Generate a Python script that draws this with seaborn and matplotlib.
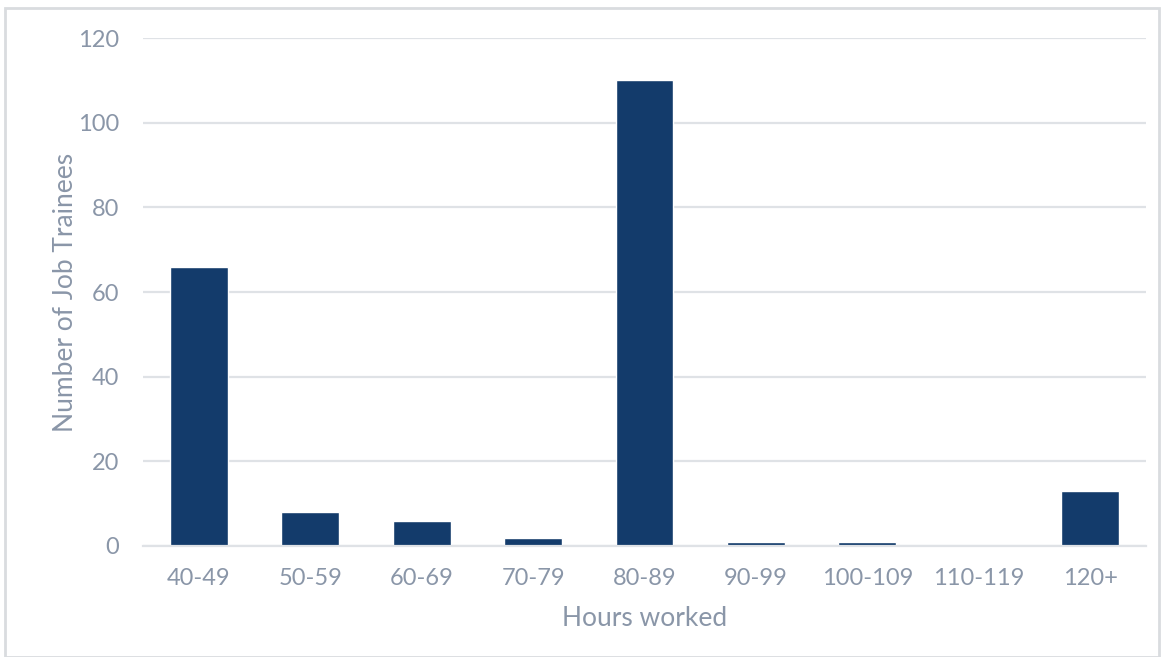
import matplotlib
matplotlib.use("Agg")
import matplotlib.pyplot as plt
import seaborn as sns
import pandas as pd
from matplotlib.patches import Rectangle

categories = ["40-49", "50-59", "60-69", "70-79", "80-89", "90-99", "100-109", "110-119", "120+"]
values = [66, 8, 6, 2, 110, 1, 1, 0, 13]
yticks = [0, 20, 40, 60, 80, 100, 120]

df = pd.DataFrame({"Hours worked": categories, "Number of Job Trainees": values})

sns.set_theme(style="white")
plt.rcParams['font.family'] = ['Lato', 'DejaVu Sans']
text_color = "#8a96a8"
grid_color = "#dfe2e6"

fig = plt.figure(figsize=(11.64, 6.57), dpi=100)
ax = fig.add_axes([0.1229, 0.169, 0.8616, 0.773])
sns.barplot(data=df, x="Hours worked", y="Number of Job Trainees", color="#133b6b",
            saturation=1, width=0.52, ax=ax)
ax.set_ylim(0, 120)
ax.set_yticks(yticks)
ax.set_xlim(-0.5, len(categories) - 0.5)
ax.yaxis.grid(True, color=grid_color, linewidth=1.6)
ax.set_axisbelow(True)
for s in ["top", "right", "left"]:
    ax.spines[s].set_visible(False)
ax.spines["bottom"].set_color(grid_color)
ax.spines["bottom"].set_linewidth(1.6)
ax.tick_params(axis="both", colors=text_color, labelsize=17, length=0)
ax.tick_params(axis="y", pad=17)
ax.tick_params(axis="x", pad=16)
ax.set_xlabel("Hours worked", color=text_color, fontsize=19, labelpad=12)
ax.set_ylabel("Number of Job Trainees", color=text_color, fontsize=19, labelpad=0)

fig.patches.append(Rectangle((5/1164, 0), 1154/1164, 1 - 8/657, transform=fig.transFigure,
                             fill=False, edgecolor="#d9dcdf", linewidth=2))
fig.savefig("out.png", dpi=100)
